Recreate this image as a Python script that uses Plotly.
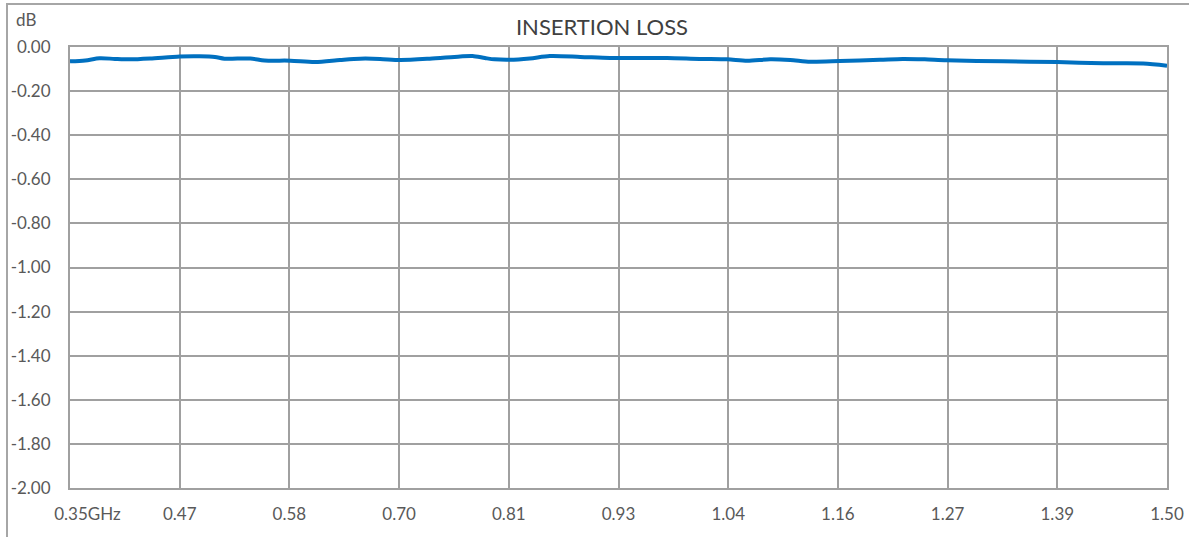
import plotly.graph_objects as go

# ---- data ----
freq_ghz = [0.350, 0.366, 0.381, 0.397, 0.413, 0.434, 0.465, 0.486, 0.502, 0.512,
            0.539, 0.554, 0.581, 0.607, 0.633, 0.654, 0.675, 0.696, 0.727, 0.759,
            0.772, 0.785, 0.795, 0.811, 0.832, 0.853, 0.885, 0.916, 0.948, 0.976,
            1.010, 1.039, 1.060, 1.084, 1.105, 1.126, 1.157, 1.199, 1.223, 1.246,
            1.269, 1.328, 1.385, 1.433, 1.475, 1.500]
loss_db = [-0.065, -0.061, -0.051, -0.054, -0.056, -0.052, -0.043, -0.042, -0.045, -0.053,
           -0.052, -0.061, -0.062, -0.068, -0.059, -0.053, -0.054, -0.059, -0.053, -0.043,
           -0.041, -0.050, -0.056, -0.058, -0.052, -0.041, -0.045, -0.050, -0.050, -0.050,
           -0.054, -0.056, -0.062, -0.056, -0.059, -0.067, -0.064, -0.058, -0.054, -0.056,
           -0.060, -0.065, -0.068, -0.074, -0.075, -0.085]

x_tick_vals = [0.35, 0.465, 0.58, 0.695, 0.81, 0.925, 1.04, 1.155, 1.27, 1.385, 1.50]
x_tick_text = ["\u00a0" * 8 + "0.35GHz", "0.47", "0.58", "0.70", "0.81", "0.93",
               "1.04", "1.16", "1.27", "1.39", "1.50"]
y_tick_vals = [0.0, -0.2, -0.4, -0.6, -0.8, -1.0, -1.2, -1.4, -1.6, -1.8, -2.0]
y_tick_text = ["0.00", "-0.20", "-0.40", "-0.60", "-0.80", "-1.00",
               "-1.20", "-1.40", "-1.60", "-1.80", "-2.00"]

GRID = "#A0A0A0"
TXT = "#595959"
FONT = "Lato"

fig = go.Figure()
fig.add_trace(go.Scatter(
    x=freq_ghz, y=loss_db, mode="lines",
    line=dict(color="#0070C0", width=4, shape="spline", smoothing=0.8),
    showlegend=False, hoverinfo="x+y",
))

fig.update_layout(
    width=1189, height=537,
    margin=dict(l=70, r=22, t=47, b=49),
    paper_bgcolor="white", plot_bgcolor="white",
    title=dict(text="INSERTION LOSS", x=602 / 1189, xref="container", xanchor="center",
               y=1 - 27 / 537, yref="container", yanchor="middle",
               font=dict(family=FONT, size=22, color="#404040")),
    font=dict(family=FONT, size=17, color=TXT),
    xaxis=dict(
        range=[0.35, 1.50], tickmode="array", tickvals=x_tick_vals, ticktext=x_tick_text,
        showgrid=True, gridcolor=GRID, gridwidth=2,
        showline=True, linecolor=GRID, linewidth=2, mirror=True,
        ticks="", zeroline=False, ticklabelstandoff=10, automargin=False,
        tickfont=dict(family=FONT, size=17, color=TXT),
    ),
    yaxis=dict(
        range=[-2.0, 0.0], tickmode="array", tickvals=y_tick_vals, ticktext=y_tick_text,
        showgrid=True, gridcolor=GRID, gridwidth=2,
        showline=True, linecolor=GRID, linewidth=2, mirror=True,
        ticks="", zeroline=False, ticklabelstandoff=14, automargin=False,
        tickfont=dict(family=FONT, size=17, color=TXT),
    ),
    annotations=[dict(text="dB", xref="paper", yref="paper",
                      x=(14 - 70) / 1097, y=(488 - 20) / 441,
                      xanchor="left", yanchor="middle", showarrow=False,
                      font=dict(family=FONT, size=17, color=TXT))],
    shapes=[dict(type="rect", xref="paper", yref="paper",
                 x0=(7 - 70) / 1097, x1=(1200 - 70) / 1097,
                 y0=(488 - 550) / 441, y1=(488 - 4) / 441,
                 line=dict(color="#A6A6A6", width=2), fillcolor="rgba(0,0,0,0)",
                 layer="below")],
)

fig.write_html("out.html", config={"displayModeBar": False},
               post_script="document.body.style.margin='0';document.body.style.overflow='hidden';")
